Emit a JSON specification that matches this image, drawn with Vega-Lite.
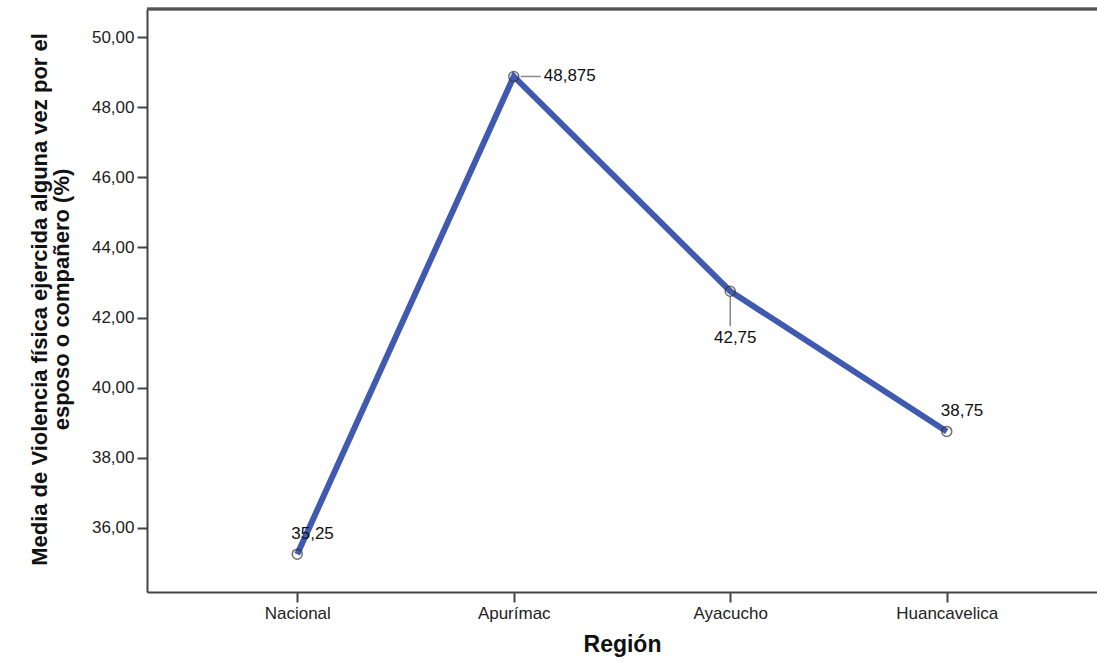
{
  "$schema": "https://vega.github.io/schema/vega-lite/v6.json",
  "width": 950,
  "height": 583,
  "autosize": {"type": "none"},
  "padding": {"left": 147, "top": 9, "right": 0, "bottom": 71},
  "background": "white",
  "config": {
    "view": {"stroke": null},
    "font": "Liberation Sans",
    "axis": {"grid": false, "domainColor": "#444", "domainWidth": 2, "tickColor": "#444", "tickWidth": 2, "labelFont": "Liberation Sans", "labelFontSize": 17, "labelColor": "#222", "titleFont": "Liberation Sans", "titleColor": "#111", "titleFontWeight": "bold"}
  },
  "data": {
    "values": [
      {"region": "Nacional", "media": 35.25, "label": "35,25"},
      {"region": "Apurímac", "media": 48.875, "label": "48,875"},
      {"region": "Ayacucho", "media": 42.75, "label": "42,75"},
      {"region": "Huancavelica", "media": 38.75, "label": "38,75"}
    ]
  },
  "layer": [
    {
      "encoding": {
        "x": {"field": "region", "type": "nominal", "sort": null,
          "scale": {"type": "point", "padding": 0.694},
          "axis": {"title": "Región", "labelAngle": 0, "tickSize": 10, "labelPadding": 3, "titleFontSize": 23, "titlePadding": 12}},
        "y": {"field": "media", "type": "quantitative",
          "scale": {"domain": [34.17, 50.8], "nice": false, "zero": false},
          "axis": {"values": [36, 38, 40, 42, 44, 46, 48, 50], "labelExpr": "replace(format(datum.value, '.2f'), '.', ',')", "tickSize": 10, "labelPadding": 3,
            "title": ["Media de Violencia física ejercida alguna vez por el", "esposo o compañero (%)"], "titleFontSize": 22, "titleLineHeight": 22, "titleX": -108, "titleY": 290, "titleAngle": -90, "titleAlign": "center", "titleBaseline": "middle"}}
      },
      "layer": [
        {"mark": {"type": "line", "color": "#3F5AAF", "strokeWidth": 6}},
        {"mark": {"type": "point", "shape": "circle", "size": 100, "stroke": "#333", "strokeWidth": 1.5, "fill": null, "filled": false}},
        {"transform": [{"filter": "datum.region == 'Apurímac'"}],
          "mark": {"type": "tick", "orient": "horizontal", "size": 20, "thickness": 1.5, "color": "#555", "xOffset": 17}},
        {"transform": [{"filter": "datum.region == 'Ayacucho'"}],
          "mark": {"type": "tick", "orient": "vertical", "size": 30, "thickness": 1.5, "color": "#555", "yOffset": 20}},
        {"transform": [{"filter": "datum.region == 'Apurímac'"}],
          "mark": {"type": "text", "align": "left", "baseline": "middle", "dx": 30, "dy": 0, "fontSize": 17, "color": "#111"},
          "encoding": {"text": {"field": "label"}}},
        {"transform": [{"filter": "datum.region == 'Ayacucho'"}],
          "mark": {"type": "text", "align": "center", "baseline": "middle", "dx": 5, "dy": 47, "fontSize": 17, "color": "#111"},
          "encoding": {"text": {"field": "label"}}},
        {"transform": [{"filter": "datum.region == 'Huancavelica' || datum.region == 'Nacional'"}],
          "mark": {"type": "text", "align": "left", "baseline": "middle", "dx": -6, "dy": -20, "fontSize": 17, "color": "#111"},
          "encoding": {"text": {"field": "label"}}}
      ]
    },
    {"mark": {"type": "rule", "color": "#555", "strokeWidth": 2.5}, "encoding": {"y": {"datum": 50.8}}}
  ]
}
